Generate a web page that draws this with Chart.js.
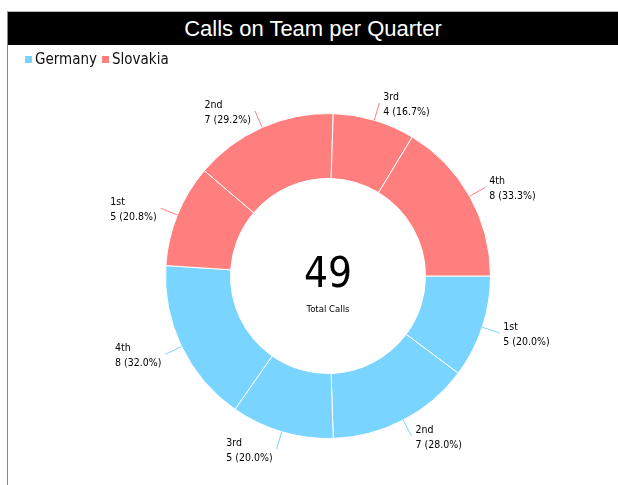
<!DOCTYPE html>
<html>
<head>
<meta charset="utf-8">
<script src="https://cdn.jsdelivr.net/npm/chart.js@4.4.1/dist/chart.umd.min.js"></script>
<style>
    body { margin: 0; background: #fff; }
    #frame { position: absolute; left: 7px; top: 11px; width: 611px; height: 474px; border-left: 1px solid #888; border-top: 1px solid #bbb; }
    #title { position: absolute; left: 8px; top: 12px; width: 610px; height: 33px; background: #000; color: #fff;
             font: 22px "Liberation Sans", Arial, sans-serif; text-align: center; line-height: 33px; }
    #legend { position: absolute; left: 25px; top: 50px; font: 15px "DejaVu Sans Condensed", "DejaVu Sans", sans-serif; color: #111; white-space: nowrap; }
    #legend span.box { display: inline-block; width: 7px; height: 7px; margin-right: 3px; vertical-align: 1px; }
    #legend span.item { margin-right: 5px; }
    canvas { position: absolute; left: 0; top: 0; }
</style>
</head>
<body>
<div id="frame"></div>
<canvas id="callsChart" width="618" height="485"></canvas>
<div id="title">Calls on Team per Quarter</div>
<div id="legend"></div>
<script>
const categories = ['1st', '2nd', '3rd', '4th'];
const groups = ['Germany', 'Slovakia'];
const germanyCalls = [5, 7, 5, 8];
const slovakiaCalls = [5, 7, 4, 8];
const groupColors = ['#79D4FF', '#FF7F7F'];

const groupValues = [germanyCalls, slovakiaCalls];
const totalCalls = germanyCalls.concat(slovakiaCalls).reduce((a, b) => a + b, 0);

// one ring, segments coloured by group
const sliceLabels = [];
const sliceData = [];
const sliceColors = [];
const sliceGroup = [];
groupValues.forEach((vals, g) => {
    vals.forEach((v, i) => {
        sliceLabels.push(categories[i]);
        sliceData.push(v);
        sliceColors.push(groupColors[g]);
        sliceGroup.push(g);
    });
});
const groupTotals = groupValues.map(vals => vals.reduce((a, b) => a + b, 0));

// html legend
document.getElementById('legend').innerHTML = groups.map((name, g) =>
    '<span class="item"><span class="box" style="background:' + groupColors[g] + '"></span>' + name + '</span>'
).join('');

const labelFont = '10.5px "DejaVu Sans Condensed", "DejaVu Sans", sans-serif';

const outsideLabels = {
    id: 'outsideLabels',
    afterDatasetsDraw(chart) {
        const ctx = chart.ctx;
        const meta = chart.getDatasetMeta(0);
        ctx.save();
        meta.data.forEach((arc, i) => {
            const p = arc.getProps(['x', 'y', 'startAngle', 'endAngle', 'outerRadius'], true);
            const mid = (p.startAngle + p.endAngle) / 2;
            const cos = Math.cos(mid), sin = Math.sin(mid);
            const x0 = p.x + cos * p.outerRadius, y0 = p.y + sin * p.outerRadius;
            const x1 = p.x + cos * (p.outerRadius + 18), y1 = p.y + sin * (p.outerRadius + 18);
            ctx.strokeStyle = sliceColors[i];
            ctx.lineWidth = 1;
            ctx.beginPath();
            ctx.moveTo(x0, y0);
            ctx.lineTo(x1, y1);
            ctx.stroke();

            const g = sliceGroup[i];
            const pct = (sliceData[i] / groupTotals[g] * 100).toFixed(1);
            const lines = [sliceLabels[i], sliceData[i] + ' (' + pct + '%)'];
            ctx.font = labelFont;
            ctx.fillStyle = '#000';
            ctx.textBaseline = 'middle';
            ctx.textAlign = 'left';
            const w = Math.max(...lines.map(t => ctx.measureText(t).width));
            const tx = cos >= 0 ? x1 + 4 : x1 - 4 - w;
            ctx.fillText(lines[0], tx, y1 - 6);
            ctx.fillText(lines[1], tx, y1 + 9);
        });
        ctx.restore();
    }
};

const centerText = {
    id: 'centerText',
    afterDraw(chart) {
        const ctx = chart.ctx;
        const arc = chart.getDatasetMeta(0).data[0];
        ctx.save();
        ctx.fillStyle = '#000';
        ctx.textAlign = 'center';
        ctx.textBaseline = 'middle';
        ctx.font = '42px "DejaVu Sans Condensed", "DejaVu Sans", sans-serif';
        ctx.fillText(String(totalCalls), arc.x, arc.y);
        ctx.font = '9.5px "DejaVu Sans Condensed", "DejaVu Sans", sans-serif';
        ctx.fillText('Total Calls', arc.x, arc.y + 34);
        ctx.restore();
    }
};

new Chart(document.getElementById('callsChart').getContext('2d'), {
    type: 'doughnut',
    data: {
        labels: sliceLabels,
        datasets: [{
            data: sliceData,
            backgroundColor: sliceColors,
            borderColor: '#ffffff',
            borderWidth: 1,
            hoverOffset: 0
        }]
    },
    options: {
        responsive: false,
        animation: false,
        rotation: 90,
        cutout: '60%',
        layout: {
            padding: { top: 113, bottom: 46, left: 100, right: 62 }
        },
        plugins: {
            legend: { display: false },
            tooltip: { enabled: false },
            title: { display: false }
        }
    },
    plugins: [outsideLabels, centerText]
});
</script>
</body>
</html>
